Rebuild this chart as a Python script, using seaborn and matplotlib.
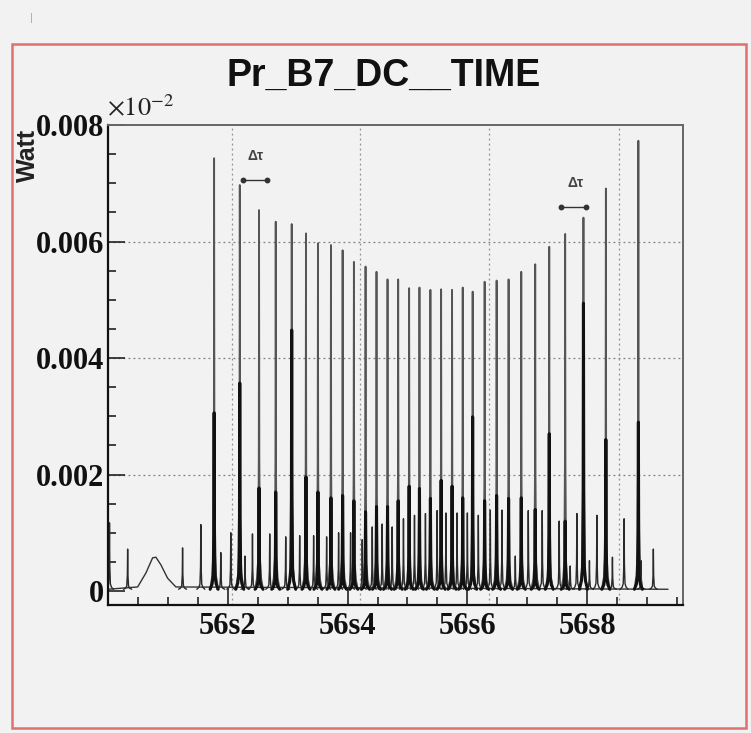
import matplotlib
matplotlib.use("Agg")
import matplotlib.pyplot as plt
from matplotlib.patches import Rectangle
from matplotlib.ticker import MultipleLocator
import numpy as np
import pandas as pd
import seaborn as sns

# ---------------- data ----------------
main_t = [56.1772, 56.2200, 56.2522, 56.2800, 56.3067, 56.3305, 56.3505, 56.3722,
          56.3917, 56.4105, 56.4300, 56.4483, 56.4667, 56.4845, 56.5028, 56.5200,
          56.5383, 56.5562, 56.5745, 56.5922, 56.6088, 56.6288, 56.6488, 56.6688,
          56.6900, 56.7133, 56.7367, 56.7633, 56.7938, 56.8312, 56.8855]
main_h = [0.00743, 0.00697, 0.00654, 0.00634, 0.00630, 0.00614, 0.00597, 0.00594,
          0.00585, 0.00565, 0.00557, 0.00548, 0.00535, 0.00535, 0.00520, 0.00521,
          0.00517, 0.00518, 0.00517, 0.00521, 0.00514, 0.00531, 0.00533, 0.00535,
          0.00548, 0.00561, 0.00591, 0.00613, 0.00641, 0.00691, 0.00773]
inner_h = [0.00306, 0.00357, 0.00177, 0.00170, 0.00448, 0.00196, 0.00170, 0.00160,
           0.00164, 0.00155, 0.00136, 0.00145, 0.00145, 0.00155, 0.00180, 0.00176,
           0.00159, 0.00190, 0.00180, 0.00160, 0.00299, 0.00155, 0.00164, 0.00159,
           0.00160, 0.00140, 0.00270, 0.00120, 0.00494, 0.00260, 0.00290]

minor_t = [56.0025, 56.0328, 56.1245, 56.1550, 56.1883, 56.2050, 56.2288, 56.2412,
           56.2700, 56.2967, 56.3200, 56.3433, 56.3650, 56.3850, 56.4050, 56.4245,
           56.4412, 56.4578, 56.4745, 56.4933, 56.5117, 56.5300, 56.5495, 56.5642,
           56.5828, 56.6000, 56.6183, 56.6383, 56.6578, 56.6800, 56.7017, 56.7250,
           56.7533, 56.7717, 56.7828, 56.8038, 56.8162, 56.8422, 56.8617, 56.8900,
           56.9105]
minor_h = [0.00117, 0.00072, 0.00074, 0.00114, 0.00066, 0.00100, 0.00060, 0.00098,
           0.00098, 0.00093, 0.00095, 0.00095, 0.00093, 0.00100, 0.00100, 0.00088,
           0.00110, 0.00115, 0.00110, 0.00124, 0.00130, 0.00133, 0.00138, 0.00134,
           0.00134, 0.00134, 0.00130, 0.00139, 0.00139, 0.00060, 0.00138, 0.00138,
           0.00120, 0.00043, 0.00133, 0.00052, 0.00130, 0.00058, 0.00124, 0.00052,
           0.00072]

hump_t = [56.0495, 56.0633, 56.0745, 56.0800, 56.0883, 56.0995, 56.1133]
hump_v = [0.00007, 0.00031, 0.00057, 0.00058, 0.00045, 0.00022, 0.00007]

trace_start, trace_end, base_level = 56.0, 56.935, 0.00003

x_ticks = [56.2, 56.4, 56.6, 56.8]
x_labels = ["56s2", "56s4", "56s6", "56s8"]
y_ticks = [0, 0.002, 0.004, 0.006, 0.008]
y_labels = ["0", "0.002", "0.004", "0.006", "0.008"]
title = "Pr_B7_DC__TIME"
y_title = "Watt"
dt_label = "\u0394\u03c4"

# ---------------- drawing helpers ----------------
PX = 0.2 / 120.0                      # seconds per pixel
OFFS = [-4.0, -2.0, -0.9, -0.3, 0.0, 0.3, 0.9, 2.0, 4.0]
PROF = [0.0, 0.03, 0.08, 0.35, 1.0, 0.35, 0.08, 0.03, 0.0]


def spikes(ts, hs, tag):
    rows = []
    for i, (t, h) in enumerate(zip(ts, hs)):
        for o, p in zip(OFFS, PROF):
            rows.append((f"{tag}{i}", t + o * PX, base_level + p * (h - base_level)))
    return pd.DataFrame(rows, columns=["unit", "t", "v"])


base_df = pd.DataFrame({
    "unit": "base",
    "t": [trace_start] + hump_t + [trace_end],
    "v": [base_level] + hump_v + [base_level],
}).sort_values("t")

sns.set_style("white")
plt.rcParams["font.family"] = ["Liberation Sans", "DejaVu Sans"]
plt.rcParams["mathtext.fontset"] = "stix"

BG = "#f2f2f2"
W, H = 751, 733
fig = plt.figure(figsize=(W / 100, H / 100), dpi=100, facecolor=BG)
ax = fig.add_axes([108 / W, 1 - 605 / H, (683 - 108) / W, (605 - 125) / H])
ax.set_facecolor(BG)

# outer red frame
fig.patches.append(Rectangle((12 / W, 1 - 728 / H), (746 - 12) / W, (728 - 44) / H,
                             transform=fig.transFigure, fill=False,
                             edgecolor="#e07070", lw=1.8))
fig.text(31 / W, 1 - 18 / H, "|", color="#aaaaaa", fontsize=8, ha="center", va="center")

# grid
for yv in [0.002, 0.004, 0.006]:
    ax.axhline(yv, color="#808080", lw=0.9, ls=(0, (1.5, 2.5)), zorder=0)
for xv in [56.2067, 56.4200, 56.6367, 56.8530]:
    ax.axvline(xv, color="#909090", lw=0.9, ls=(0, (1.5, 2.5)), zorder=0)

# trace
sns.lineplot(data=base_df, x="t", y="v", sort=False, estimator=None,
             color="#333333", lw=1.0, ax=ax, legend=False)
sns.lineplot(data=spikes(minor_t, minor_h, "m"), x="t", y="v", units="unit",
             estimator=None, sort=False, color="#2a2a2a", lw=1.0, ax=ax, legend=False)
sns.lineplot(data=spikes(main_t, main_h, "M"), x="t", y="v", units="unit",
             estimator=None, sort=False, color="#555555", lw=1.3, ax=ax, legend=False)
sns.lineplot(data=spikes(main_t, inner_h, "I"), x="t", y="v", units="unit",
             estimator=None, sort=False, color="#111111", lw=2.2, ax=ax, legend=False)

# delta-tau markers
for (x1, x2, ya, tx, ty) in [(56.2255, 56.2662, 0.00706, 56.2467, 0.00747),
                             (56.7567, 56.7978, 0.00659, 56.7808, 0.00700)]:
    ax.plot([x1, x2], [ya, ya], color="#333333", lw=1.0, marker="o", ms=3.2)
    ax.text(tx, ty, dt_label, fontsize=10, color="#444444", ha="center", va="center",
            fontweight="bold")

# axes
ax.set_xlim(56.0, 56.96)
ax.set_ylim(-0.00024, 0.008)
ax.set_xticks(x_ticks)
ax.set_xticklabels(x_labels)
ax.set_yticks(y_ticks)
ax.set_yticklabels(y_labels)
ax.xaxis.set_minor_locator(MultipleLocator(0.05))
ax.yaxis.set_minor_locator(MultipleLocator(0.0005))
ax.tick_params(which="both", direction="in", color="#222222", width=1.2,
               left=True, bottom=True, top=False, right=False)
ax.tick_params(which="major", length=12)
ax.tick_params(which="minor", length=6)
ax.tick_params(axis="y", pad=3)
ax.tick_params(axis="x", pad=5)
for lab in ax.get_xticklabels() + ax.get_yticklabels():
    lab.set_fontfamily("Liberation Serif")
    lab.set_fontweight("bold")
    lab.set_fontsize(22)
    lab.set_color("#111111")
ax.set_xlabel("")
ax.set_ylabel("")
for side in ["left", "bottom"]:
    ax.spines[side].set_color("#111111")
    ax.spines[side].set_linewidth(1.6)
for side in ["top", "right"]:
    ax.spines[side].set_color("#666666")
    ax.spines[side].set_linewidth(1.4)

fig.text(384 / W, 1 - 76 / H, title, fontsize=27, fontweight="bold",
         ha="center", va="center", color="#111111")
fig.text(28 / W, 1 - 155 / H, y_title, fontsize=18, fontweight="bold", rotation=90,
         ha="center", va="center", color="#222222")
fig.text(107 / W, 1 - 108 / H, r"$\times10^{-2}$", fontsize=19, ha="left",
         va="center", color="#222222")

fig.savefig("out.png", dpi=100, facecolor=BG)
